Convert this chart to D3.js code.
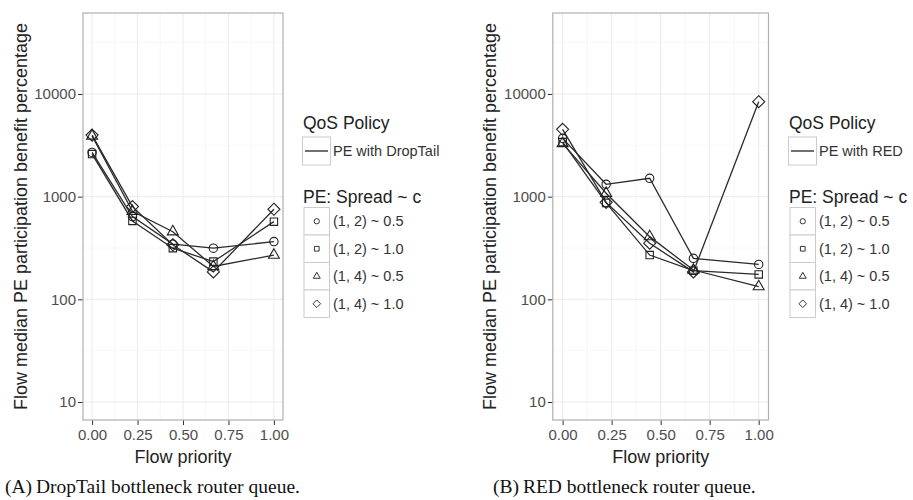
<!DOCTYPE html>
<html>
<head>
<meta charset="utf-8">
<script src="https://cdn.jsdelivr.net/npm/d3@7"></script>
<style>
  body { margin: 0; background: #fff; }
  svg { display: block; font-family: "Liberation Sans", Arial, Helvetica, sans-serif; }
</style>
</head>
<body>
<div id="chart"></div>
<script>
// flow priority levels on the x axis
var priority = [0, 0.222, 0.444, 0.667, 1.0];

var xTicks = [0, 0.25, 0.5, 0.75, 1];
var xMinor = [0.125, 0.375, 0.625, 0.875];
var yTicks = [10, 100, 1000, 10000];
var yMinor = [31.62, 316.2, 3162, 31623];

var seriesLabels = ["(1, 2) ~ 0.5", "(1, 2) ~ 1.0", "(1, 4) ~ 0.5", "(1, 4) ~ 1.0"];
var seriesShapes = ["circle", "square", "triangle", "diamond"];

// (A) DropTail queue, median benefit percentage
var dropTail12_05 = [2700, 640, 345, 315, 365];
var dropTail12_10 = [2600, 580, 315, 233, 571];
var dropTail14_05 = [3900, 720, 456, 209, 270];
var dropTail14_10 = [3980, 800, 340, 185, 754];

// (B) RED queue
var red12_05 = [3700, 1320, 1510, 251, 219];
var red12_10 = [3400, 870, 270, 190, 175];
var red14_05 = [3300, 1080, 408, 193, 133];
var red14_10 = [4530, 880, 352, 185, 8410];

var svg = d3.select("#chart").append("svg")
    .attr("width", 913)
    .attr("height", 500);

function shapePath(shape, size) {
    if (shape == "circle") return d3.symbol(d3.symbolCircle, size)();
    if (shape == "square") return d3.symbol(d3.symbolSquare, size)();
    if (shape == "triangle") return d3.symbol(d3.symbolTriangle, size * 0.95)();
    // ggplot diamond = square turned 45 degrees
    var h = Math.sqrt(size) / Math.SQRT2 * 1.15;
    return "M0," + (-h) + "L" + h + ",0L0," + h + "L" + (-h) + ",0Z";
}

function drawPanel(p) {
    var x = d3.scaleLinear().domain([-0.05, 1.05]).range([p.left, p.right]);
    var y = d3.scaleLog().domain([6.68, 61500]).range([p.bottom, p.top]);

    var g = svg.append("g");

    g.append("rect")
        .attr("x", p.left).attr("y", p.top)
        .attr("width", p.right - p.left).attr("height", p.bottom - p.top)
        .attr("fill", "#fff");

    // minor then major grid
    g.selectAll(".xminor").data(xMinor).enter().append("line")
        .attr("x1", function(d) { return x(d); }).attr("x2", function(d) { return x(d); })
        .attr("y1", p.top).attr("y2", p.bottom)
        .attr("stroke", "#f4f4f4").attr("stroke-width", 0.8);
    g.selectAll(".yminor").data(yMinor).enter().append("line")
        .attr("y1", function(d) { return y(d); }).attr("y2", function(d) { return y(d); })
        .attr("x1", p.left).attr("x2", p.right)
        .attr("stroke", "#f4f4f4").attr("stroke-width", 0.8);
    g.selectAll(".xmajor").data(xTicks).enter().append("line")
        .attr("x1", function(d) { return x(d); }).attr("x2", function(d) { return x(d); })
        .attr("y1", p.top).attr("y2", p.bottom)
        .attr("stroke", "#ebebeb").attr("stroke-width", 1);
    g.selectAll(".ymajor").data(yTicks).enter().append("line")
        .attr("y1", function(d) { return y(d); }).attr("y2", function(d) { return y(d); })
        .attr("x1", p.left).attr("x2", p.right)
        .attr("stroke", "#ebebeb").attr("stroke-width", 1);

    // axes
    var xAxis = g.append("g")
        .attr("transform", "translate(0," + p.bottom + ")")
        .call(d3.axisBottom(x).tickValues(xTicks).tickFormat(d3.format(".2f")).tickSize(5).tickPadding(4));
    var yAxis = g.append("g")
        .attr("transform", "translate(" + p.left + ",0)")
        .call(d3.axisLeft(y).tickValues(yTicks).tickFormat(d3.format("d")).tickSize(5).tickPadding(2));
    [xAxis, yAxis].forEach(function(a) {
        a.select(".domain").remove();
        a.selectAll("line").attr("stroke", "#333").attr("stroke-width", 1);
        a.selectAll("text").attr("fill", "#4d4d4d").style("font-size", "15px")
            .style("font-family", "'Liberation Sans', Arial, sans-serif");
    });

    g.append("rect")
        .attr("x", p.left).attr("y", p.top)
        .attr("width", p.right - p.left).attr("height", p.bottom - p.top)
        .attr("fill", "none").attr("stroke", "#b0b0b0").attr("stroke-width", 1.2);

    // lines first, then points (as ggplot layers)
    var line = d3.line()
        .x(function(d) { return x(d.p); })
        .y(function(d) { return y(d.v); });

    var series = p.series.map(function(vals, i) {
        return {
            shape: seriesShapes[i],
            pts: vals.map(function(v, j) { return { p: priority[j], v: v }; })
        };
    });

    g.selectAll(".series").data(series).enter().append("path")
        .attr("d", function(d) { return line(d.pts); })
        .attr("fill", "none").attr("stroke", "#2b2b2b").attr("stroke-width", 1.3);

    series.forEach(function(s) {
        g.selectAll(null).data(s.pts).enter().append("path")
            .attr("transform", function(d) { return "translate(" + x(d.p) + "," + y(d.v) + ")"; })
            .attr("d", shapePath(s.shape, 55))
            .attr("fill", "none").attr("stroke", "#222").attr("stroke-width", 1.1);
    });

    // axis titles
    g.append("text")
        .attr("x", (x(0) + x(1)) / 2).attr("y", 462.5)
        .attr("text-anchor", "middle").attr("fill", "#222").style("font-size", "18px")
        .text("Flow priority");
    g.append("text")
        .attr("transform", "translate(" + p.titleX + "," + ((p.top + p.bottom) / 2) + ") rotate(-90)")
        .attr("text-anchor", "middle").attr("fill", "#222").style("font-size", "18px")
        .text("Flow median PE participation benefit percentage");

    // legend
    var lx = p.legendX;
    g.append("text").attr("x", lx).attr("y", 129)
        .attr("fill", "#222").style("font-size", "17.5px").text("QoS Policy");
    g.append("rect").attr("x", lx - 0.5).attr("y", 137).attr("width", 28).attr("height", 28)
        .attr("fill", "#fff").attr("stroke", "#cccccc").attr("stroke-width", 1);
    g.append("line").attr("x1", lx + 2).attr("x2", lx + 25).attr("y1", 151).attr("y2", 151)
        .attr("stroke", "#222").attr("stroke-width", 1.3);
    g.append("text").attr("x", lx + 30).attr("y", 151).attr("dy", "0.35em")
        .attr("fill", "#333").style("font-size", "14.5px").text(p.policy);

    g.append("text").attr("x", lx).attr("y", 203)
        .attr("fill", "#222").style("font-size", "17.5px").text("PE: Spread ~ c");

    var keys = g.selectAll(".key").data(seriesLabels).enter().append("g")
        .attr("transform", function(d, i) { return "translate(" + (lx + 1) + "," + (207.5 + i * 27.5) + ")"; });
    keys.append("rect").attr("width", 25.5).attr("height", 27.5)
        .attr("fill", "#fff").attr("stroke", "#cccccc").attr("stroke-width", 1);
    keys.append("path")
        .attr("transform", "translate(12.75,13.75)")
        .attr("d", function(d, i) { return shapePath(seriesShapes[i], 22); })
        .attr("fill", "none").attr("stroke", "#333").attr("stroke-width", 1);
    keys.append("text").attr("x", 29).attr("y", 13.75).attr("dy", "0.35em")
        .attr("fill", "#333").style("font-size", "14.5px").text(function(d) { return d; });

    // caption under the panel
    svg.append("text")
        .attr("x", p.captionX).attr("y", 493)
        .attr("fill", "#111")
        .style("font-family", "'Liberation Serif', 'Times New Roman', serif")
        .style("font-size", "19.5px")
        .text(p.caption);
}

drawPanel({
    left: 83, right: 283, top: 13, bottom: 420,
    titleX: 26.5, legendX: 303,
    policy: "PE with DropTail",
    series: [dropTail12_05, dropTail12_10, dropTail14_05, dropTail14_10],
    captionX: 5,
    caption: "(A)\u2009DropTail bottleneck router queue."
});

drawPanel({
    left: 552.8, right: 768.5, top: 13, bottom: 420,
    titleX: 496, legendX: 789,
    policy: "PE with RED",
    series: [red12_05, red12_10, red14_05, red14_10],
    captionX: 493,
    caption: "(B)\u2009RED bottleneck router queue."
});
</script>
</body>
</html>
